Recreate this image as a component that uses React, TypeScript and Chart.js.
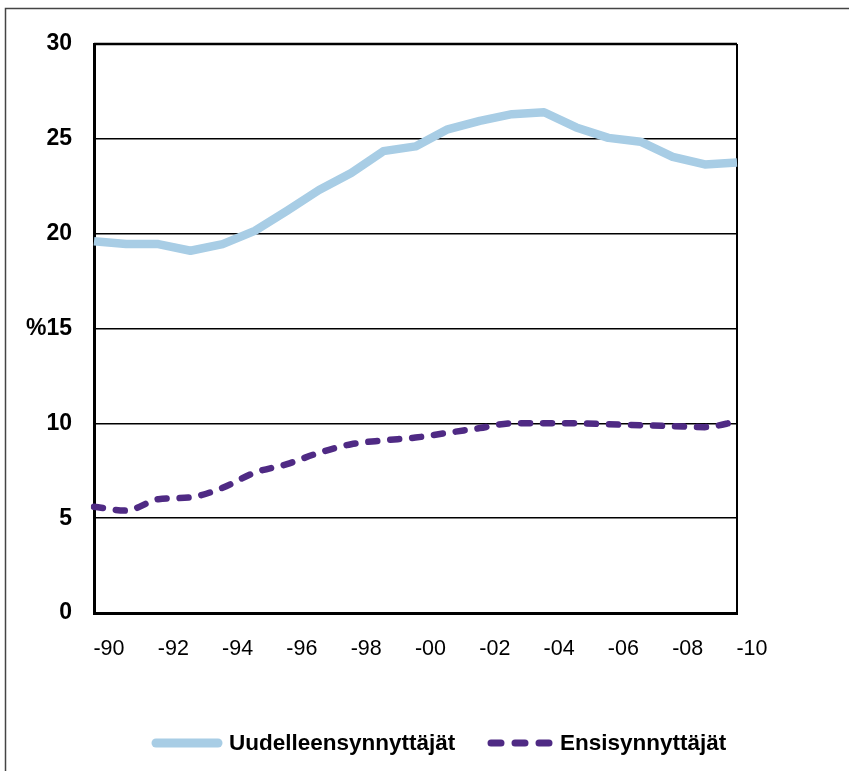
import React, { useEffect, useRef } from "react";
import { Chart, registerables } from "chart.js";

Chart.register(...registerables);

const categories = [
  "-90", "-91", "-92", "-93", "-94", "-95", "-96", "-97", "-98", "-99", "-00",
  "-01", "-02", "-03", "-04", "-05", "-06", "-07", "-08", "-09", "-10",
];

const uudelleensynnyttajat = [
  19.6, 19.45, 19.45, 19.1, 19.45, 20.15, 21.2, 22.3, 23.2, 24.35, 24.6,
  25.5, 25.95, 26.3, 26.4, 25.6, 25.05, 24.85, 24.05, 23.65, 23.75,
];

const ensisynnyttajat = [
  5.6, 5.4, 6.0, 6.1, 6.6, 7.4, 7.85, 8.45, 8.9, 9.1, 9.25,
  9.5, 9.75, 10.0, 10.0, 10.0, 9.95, 9.9, 9.85, 9.8, 10.1,
];

const yTickLabels: Record<number, string> = {
  0: "0", 5: "5", 10: "10", 15: "%15", 20: "20", 25: "25", 30: "30",
};

const seriesNames = ["Uudelleensynnyttäjät", "Ensisynnyttäjät"];
const blue = "#A8CDE5";
const purple = "#4F2A84";
const FONT = "'Liberation Sans', Arial, sans-serif";

export default function App() {
  const ref = useRef<HTMLCanvasElement | null>(null);

  useEffect(() => {
    const canvas = ref.current;
    if (!canvas) return;

    const framePlugin = {
      id: "frame",
      beforeDraw(chart: any) {
        const { ctx, width, height } = chart;
        ctx.save();
        ctx.fillStyle = "#ffffff";
        ctx.fillRect(0, 0, width, height);
        ctx.strokeStyle = "#444444";
        ctx.lineWidth = 1.5;
        ctx.beginPath();
        ctx.moveTo(5.5, height + 5);
        ctx.lineTo(5.5, 8.5);
        ctx.lineTo(width + 5, 8.5);
        ctx.stroke();
        ctx.restore();
      },
      beforeDatasetsDraw(chart: any) {
        const { ctx, chartArea } = chart;
        ctx.save();
        ctx.strokeStyle = "#000000";
        ctx.lineWidth = 2.5;
        ctx.beginPath();
        ctx.moveTo(chartArea.left, chartArea.top);
        ctx.lineTo(chartArea.right, chartArea.top);
        ctx.stroke();
        ctx.lineWidth = 2;
        ctx.beginPath();
        ctx.moveTo(chartArea.right, chartArea.top);
        ctx.lineTo(chartArea.right, chartArea.bottom);
        ctx.stroke();
        ctx.restore();
      },
      afterDraw(chart: any) {
        const { ctx } = chart;
        const y = 743;
        ctx.save();
        ctx.strokeStyle = blue;
        ctx.lineWidth = 9;
        ctx.lineCap = "round";
        ctx.beginPath();
        ctx.moveTo(156, y);
        ctx.lineTo(218, y);
        ctx.stroke();
        ctx.strokeStyle = purple;
        ctx.lineWidth = 7;
        ctx.setLineDash([10, 14]);
        ctx.beginPath();
        ctx.moveTo(491, y);
        ctx.lineTo(550, y);
        ctx.stroke();
        ctx.setLineDash([]);
        ctx.fillStyle = "#000000";
        ctx.font = `bold 22.5px ${FONT}`;
        ctx.textBaseline = "middle";
        ctx.textAlign = "left";
        ctx.fillText(seriesNames[0], 229, y + 1);
        ctx.fillText(seriesNames[1], 560, y + 1);
        ctx.restore();
      },
    };

    const chart = new Chart(canvas, {
      type: "line",
      data: {
        labels: categories,
        datasets: [
          {
            label: seriesNames[0],
            data: uudelleensynnyttajat,
            borderColor: blue,
            backgroundColor: blue,
            borderWidth: 8.5,
            pointRadius: 0,
            tension: 0,
            borderJoinStyle: "round",
            borderCapStyle: "butt",
          },
          {
            label: seriesNames[1],
            data: ensisynnyttajat,
            borderColor: purple,
            backgroundColor: purple,
            borderWidth: 6.5,
            borderDash: [9, 13],
            borderCapStyle: "round",
            pointRadius: 0,
            tension: 0.35,
            cubicInterpolationMode: "monotone",
          },
        ],
      },
      options: {
        responsive: false,
        animation: false,
        devicePixelRatio: 1,
        layout: { padding: { top: 44, right: 112, left: 0, bottom: 0 } },
        plugins: {
          legend: { display: false },
          tooltip: { enabled: false },
        },
        scales: {
          x: {
            type: "category",
            offset: false,
            grid: { display: false, drawTicks: false },
            border: { display: true, color: "#000000", width: 3 },
            ticks: {
              autoSkip: false,
              maxRotation: 0,
              minRotation: 0,
              color: "#000000",
              padding: 23,
              labelOffset: 15,
              font: { family: FONT, size: 21.5 },
              callback: (_v: any, i: number) => (i % 2 === 0 ? categories[i] : ""),
            },
            afterFit: (scale: any) => {
              scale.height = 158;
            },
          },
          y: {
            min: 0,
            max: 30,
            grid: { color: "#000000", lineWidth: 1.5, drawTicks: false },
            border: { display: true, color: "#000000", width: 3 },
            ticks: {
              stepSize: 5,
              color: "#000000",
              padding: 22,
              font: { family: FONT, size: 23, weight: "bold" },
              callback: (v: any) => yTickLabels[v as number] ?? String(v),
            },
            afterFit: (scale: any) => {
              scale.width = 94;
            },
          },
        },
      },
      plugins: [framePlugin],
    } as any);

    return () => chart.destroy();
  }, []);

  return (
    <div style={{ position: "absolute", left: 0, top: 0, width: 849, height: 771 }}>
      <canvas ref={ref} width={849} height={771} style={{ display: "block" }} />
    </div>
  );
}
